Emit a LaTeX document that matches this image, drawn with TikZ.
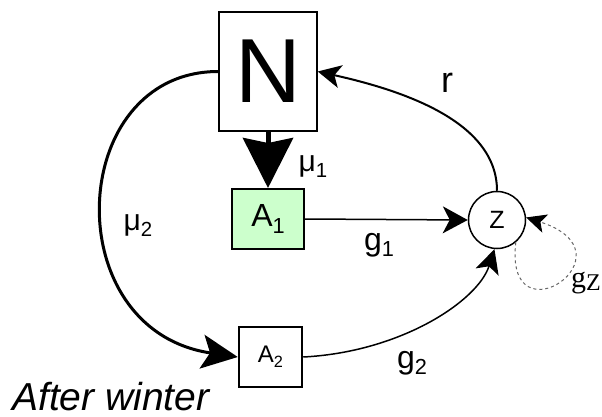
\documentclass[tikz,border=0pt]{standalone}
\usepackage{fontspec}
\usepackage{graphicx}
\setmainfont{Liberation Sans}
\newfontfamily\seriffont{Liberation Serif}
\usetikzlibrary{arrows.meta}
\definecolor{boxgreen}{RGB}{204,255,204}
\newcommand\lsub[1]{\raisebox{-0.2em}{\scalebox{0.68}{#1}}}
\begin{document}
\begin{tikzpicture}[x=1pt,y=-1pt,
  box/.style={draw, inner sep=0pt},
  lab/.style={inner sep=0pt, font=\fontsize{32}{36}\selectfont},
  conn/.style={line width=1.5pt}
]
\useasboundingbox (0,0) rectangle (602,417);
% nodes
\node[box, line width=1.5pt, minimum width=98pt, minimum height=119pt,
      font=\fontsize{91}{100}\selectfont] (N) at (268,71.5) {N};
\node[box, fill=boxgreen, line width=2pt, minimum width=72pt, minimum height=60pt,
      font=\fontsize{32}{36}\selectfont] (A1) at (268,219) {A\lsub{1}};
\node[box, line width=2.5pt, minimum width=63pt, minimum height=60pt,
      font=\fontsize{24}{28}\selectfont] (A2) at (270.5,357) {A\lsub{2}};
\node[draw, circle, line width=1.5pt, minimum size=57pt, inner sep=0pt,
      font=\fontsize{25}{28}\selectfont] (Z) at (497,220) {Z};
% connectors
\draw[line width=5pt, -{Stealth[length=50pt,width=50pt,inset=5pt]}] (N) -- (A1);
\draw[line width=3pt, -{Stealth[length=36pt,width=34pt,inset=8pt]}]
  (N.west) .. controls +(-152,0) and +(-182,-27) .. (A2.west);
\draw[line width=2pt, -{Stealth[length=23pt,width=23pt,inset=6pt]}]
  (Z.north) .. controls +(0,-70) and +(83,18.5) .. (N.east);
\draw[conn, -{Stealth[length=25pt,width=27pt,inset=7pt]}] (A1.east) -- (Z.west);
\draw[conn, -{Stealth[length=24pt,width=24pt,inset=6pt]}]
  (A2.east) .. controls +(98,-5) and +(-16.5,51.6) .. (Z.265);
\draw[black!60, line width=1pt, dash pattern=on 3pt off 3pt,
      -{Stealth[length=20pt,width=19pt,inset=5pt,black]}]
  (Z.-50) .. controls +(-12,102) and +(112,36) .. (Z.5);
% labels
\node[lab, font=\fontsize{30}{34}\selectfont] (m1) at (313,167) {μ\lsub{1}};
\node[lab, font=\fontsize{30}{34}\selectfont] (m2) at (138,226) {μ\lsub{2}};
\node[lab] (g1) at (379,245) {g\lsub{1}};
\node[lab] (g2) at (412,363) {g\lsub{2}};
\node[lab, font=\fontsize{36}{40}\selectfont] (r) at (447,83) {r};
\node[inner sep=0pt, font=\fontsize{30}{34}\selectfont\seriffont] (gz) at (586,283)
  {g\raisebox{-0.1em}{\scalebox{0.8}{Z}}};
\node[anchor=base west, inner sep=0pt, font=\fontsize{39}{44}\selectfont\itshape]
  (aw) at (12,410) {After winter};
\end{tikzpicture}
\end{document}
